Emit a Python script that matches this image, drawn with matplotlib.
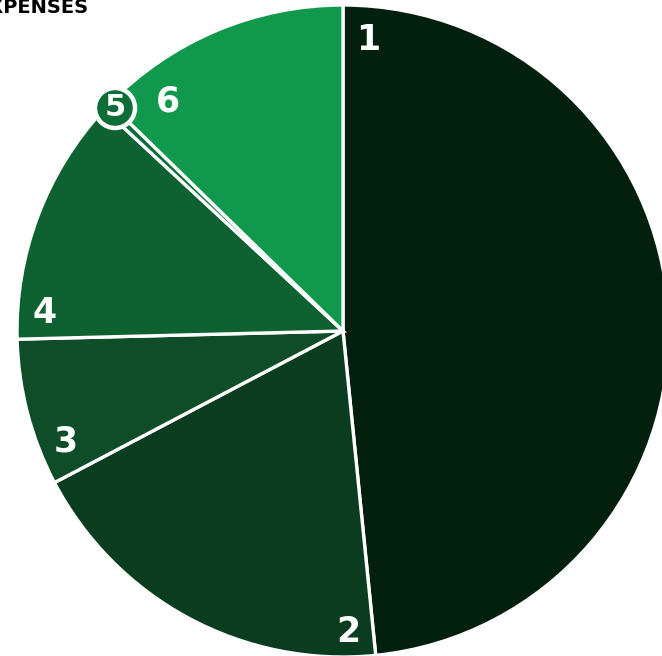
import numpy as np
import matplotlib.pyplot as plt

# Expense shares (percent), read clockwise from 12 o'clock
labels = ['1', '2', '3', '4', '5', '6']
shares = [48.4, 18.9, 7.3, 12.3, 0.4, 12.7]
colors = ['#03200f', '#0a3d1f', '#0e4d27', '#0e6231', '#0d6d36', '#10994c']

W, H = 662, 656
fig = plt.figure(figsize=(W / 100, H / 100), dpi=100)
ax = fig.add_axes([0, 0, 1, 1])

cx, cy, r = 343, H - 331, 326
wedges, _ = ax.pie(shares, colors=colors, startangle=90, counterclock=False,
                   center=(cx, cy), radius=r, frame=True,
                   wedgeprops=dict(edgecolor='white', linewidth=2.4))
ax.set_xlim(0, W)
ax.set_ylim(0, H)
ax.set_aspect('equal')
ax.axis('off')

# label placement (pixel coords from top-left)
label_pos = {'1': (368, 40), '2': (348, 632), '3': (66, 442), '4': (45, 313),
             '5': (115, 108), '6': (168, 101)}
font = dict(fontsize=25, fontweight='heavy', color='white', family='DejaVu Sans',
            ha='center', va='center')
for lab in labels:
    x, y = label_pos[lab]
    if lab == '5':
        badge = plt.Circle((x, H - y), 20, facecolor=colors[4], edgecolor='white',
                           linewidth=3.2, zorder=5)
        ax.add_patch(badge)
        ax.text(x, H - y, lab, zorder=6, **dict(font, fontsize=22))
    else:
        ax.text(x, H - y, lab, **font)

# title, partly cut at the left edge as in the source
ax.text(88, H - 13, 'EXPENSES', fontsize=14, fontweight='heavy', color='black',
        ha='right', va='baseline')

fig.savefig('out.png', dpi=100)
